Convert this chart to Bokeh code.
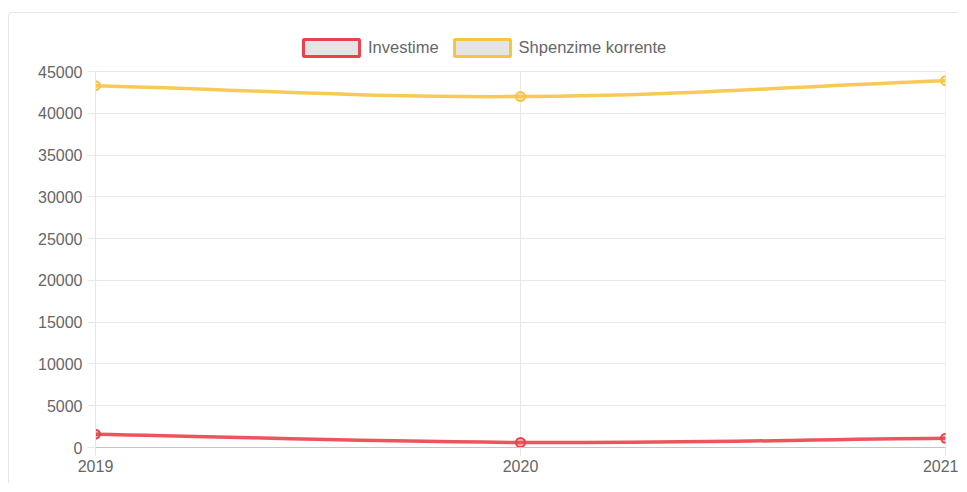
from bokeh.plotting import figure
from bokeh.models import (ColumnDataSource, Legend, LegendItem, FixedTicker,
                          Range1d)
from bokeh.layouts import column
from bokeh.embed import file_html
from bokeh.resources import INLINE

# ---- data ----
years = [2019, 2020, 2021]
investime = [1600, 600, 1100]
shpenzime = [43300, 42000, 43900]
series_names = ["Investime", "Shpenzime korrente"]
y_ticks = [0, 5000, 10000, 15000, 20000, 25000, 30000, 35000, 40000, 45000]
y_max = 45000

RED = "#ea434c"
YELLOW = "#f6c443"
GRID = "#e8e8e8"
TEXT = "#666666"
FONT = "Liberation Sans"

# layout (pixels inside the figure)
FIG_W, FIG_H = 949, 470
LEFT, RIGHT, BOTTOM = 86, 13, 36
DATA_TOP = 58          # where y_max sits, from the figure top
FRAME_TOP = 12         # frame extends above y_max to host the legend
plot_h = FIG_H - BOTTOM - DATA_TOP
y_end = y_max * (FIG_H - BOTTOM - FRAME_TOP) / plot_h


def spline_segments(xs, ys, tension=0.4):
    """Chart.js-style cubic spline control points, derived from the data."""
    n = len(xs)
    ctrl = []
    for i in range(n):
        px, py = (xs[i - 1], ys[i - 1]) if i > 0 else (xs[i], ys[i])
        nx, ny = (xs[i + 1], ys[i + 1]) if i < n - 1 else (xs[i], ys[i])
        d01 = abs(xs[i] - px)
        d12 = abs(nx - xs[i])
        tot = d01 + d12
        fa = tension * d01 / tot if tot else 0
        fb = tension * d12 / tot if tot else 0
        prev_c = (xs[i] - fa * (nx - px), ys[i] - fa * (ny - py))
        next_c = (xs[i] + fb * (nx - px), ys[i] + fb * (ny - py))
        ctrl.append((prev_c, next_c))
    seg = dict(x0=[], y0=[], x1=[], y1=[], cx0=[], cy0=[], cx1=[], cy1=[])
    for i in range(n - 1):
        seg["x0"].append(xs[i]); seg["y0"].append(ys[i])
        seg["x1"].append(xs[i + 1]); seg["y1"].append(ys[i + 1])
        seg["cx0"].append(ctrl[i][1][0]); seg["cy0"].append(ctrl[i][1][1])
        seg["cx1"].append(ctrl[i + 1][0][0]); seg["cy1"].append(ctrl[i + 1][0][1])
    return seg


p = figure(width=FIG_W, height=FIG_H, output_backend="svg",
           toolbar_location=None,
           x_range=Range1d(2019, 2021), y_range=Range1d(0, y_end),
           min_border_left=LEFT, min_border_right=RIGHT,
           min_border_top=FRAME_TOP, min_border_bottom=BOTTOM)
p.outline_line_color = None
p.background_fill_color = "white"
p.border_fill_color = "white"

# axes
p.xaxis.ticker = FixedTicker(ticks=years)
p.yaxis.ticker = FixedTicker(ticks=y_ticks)
p.yaxis.bounds = (0, y_max)
p.ygrid.ticker = FixedTicker(ticks=y_ticks)
p.ygrid.grid_line_color = GRID
p.xgrid.visible = False
p.segment(x0=years, x1=years, y0=[0] * len(years), y1=[y_max] * len(years),
          line_color=GRID, line_width=1)
for ax in (p.xaxis[0], p.yaxis[0]):
    ax.major_tick_out = 8
    ax.major_tick_in = 0
    ax.major_tick_line_color = GRID
    ax.minor_tick_line_color = None
    ax.major_label_text_font = FONT
    ax.major_label_text_font_size = "16px"
    ax.major_label_text_color = TEXT
p.xaxis.axis_line_color = "#c4c4c4"
p.yaxis.axis_line_color = GRID
p.yaxis.major_label_standoff = 5
p.xaxis.major_label_standoff = 4

# lines
colors = [RED, YELLOW]
values = [investime, shpenzime]
for vals, col in zip(values, colors):
    seg = spline_segments(years, vals)
    p.bezier(x0="x0", y0="y0", x1="x1", y1="y1", cx0="cx0", cy0="cy0",
             cx1="cx1", cy1="cy1", source=ColumnDataSource(seg),
             line_color=col, line_width=3.5, line_alpha=0.9)
    p.scatter(years, vals, size=9, line_color=col, line_width=2,
              fill_color=col, fill_alpha=0.35)

# legend with box glyphs (proxy renderers, hidden in the plot itself)
items = []
for name, col, vals in zip(series_names, colors, values):
    r = p.quad(left=[years[0]], right=[years[0]], top=[vals[0]],
               bottom=[vals[0]], fill_color="#e4e4e4",
               line_color=col, line_width=3)
    r.visible = False
    items.append(LegendItem(label=name, renderers=[r]))

legend = Legend(items=items, orientation="horizontal",
                location=(201, plot_h + 13),
                glyph_width=70, glyph_height=21, label_standoff=2, spacing=8,
                padding=0, margin=0, border_line_alpha=0,
                background_fill_alpha=0, label_text_font=FONT,
                label_text_font_size="16.5px", label_text_color=TEXT,
                label_height=21, click_policy="none")
p.add_layout(legend, "center")

layout = column(p, styles={"border-top": "1px solid #e6e6e6",
                           "border-left": "1px solid #e6e6e6",
                           "margin-top": "12px",
                           "margin-left": "8px",
                           "border-top-left-radius": "4px"})

open("out.html", "w").write(file_html(layout, INLINE))
